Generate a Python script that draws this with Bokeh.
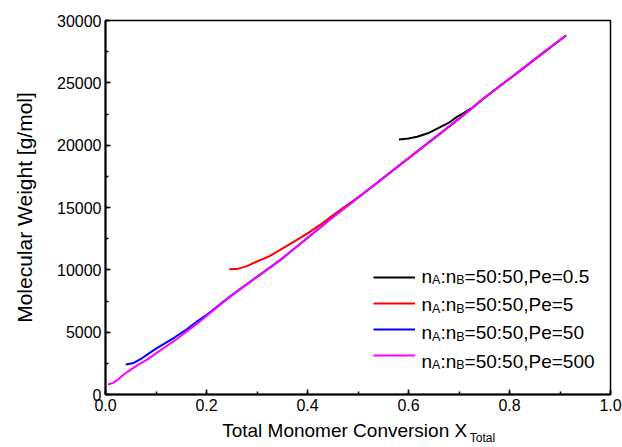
from bokeh.plotting import figure
from bokeh.models import (Range1d, SingleIntervalTicker, FixedTicker, PrintfTickFormatter,
                          NumeralTickFormatter, Legend, LegendItem, Label, LinearAxis)
from bokeh.embed import file_html
from bokeh.resources import INLINE

# ---------------- data ----------------
pe05_x = [0.581, 0.600, 0.617, 0.640, 0.657, 0.680, 0.696, 0.710, 0.723]
pe05_y = [20450, 20530, 20670, 20980, 21330, 21800, 22270, 22600, 22930]

pe5_x = [0.245, 0.260, 0.280, 0.300, 0.325, 0.350, 0.375, 0.400, 0.425, 0.445,
         0.470, 0.500, 0.550, 0.600, 0.650, 0.700, 0.750, 0.800, 0.850, 0.900, 0.912]
pe5_y = [10050, 10060, 10300, 10670, 11100, 11700, 12300, 12930, 13600, 14210,
         14950, 15800, 17370, 18950, 20540, 22120, 23780, 25330, 26880, 28430, 28800]

pe50_x = [0.040, 0.056, 0.070, 0.0825, 0.100, 0.135, 0.160, 0.1815, 0.200, 0.2475,
          0.300, 0.3465, 0.400, 0.4455, 0.500, 0.550, 0.600, 0.650, 0.700, 0.750,
          0.800, 0.850, 0.900, 0.912]
pe50_y = [2400, 2530, 2850, 3200, 3680, 4530, 5200, 5870, 6380, 7900,
          9440, 10800, 12560, 14080, 15780, 17370, 18950, 20540, 22120, 23780,
          25330, 26880, 28430, 28800]

pe500_x = [0.005, 0.015, 0.025, 0.036, 0.050, 0.065, 0.0825, 0.100, 0.135, 0.1815,
           0.200, 0.2475, 0.300, 0.3465, 0.400, 0.4455, 0.500, 0.550, 0.600, 0.650,
           0.700, 0.750, 0.800, 0.850, 0.900, 0.912]
pe500_y = [800, 930, 1200, 1600, 2000, 2400, 2800, 3300, 4270, 5680,
           6290, 7870, 9420, 10800, 12560, 14080, 15780, 17370, 18950, 20540,
           22120, 23780, 25330, 26880, 28430, 28800]

series_names = ["Pe=0.5", "Pe=5", "Pe=50", "Pe=500"]
series_colors = ["black", "#FF0000", "#0000FF", "#FF00FF"]

x_ticks_interval = 0.2
y_ticks_interval = 5000
x_title = "Total Monomer Conversion X"
x_title_sub = "Total"
y_title = "Molecular Weight [g/mol]"

# ---------------- figure ----------------
FONT = "Liberation Sans"
W, H = 622, 447
FL, FR, FT, FB = 105, 610, 20, 395   # frame edges in pixels

p = figure(width=W, height=H, output_backend="svg", toolbar_location=None,
           x_range=Range1d(0, 1), y_range=Range1d(0, 30000),
           min_border_left=FL, min_border_right=W - FR,
           min_border_top=FT, min_border_bottom=H - FB)
p.background_fill_color = "white"
p.border_fill_color = "white"
p.outline_line_color = "black"
p.outline_line_width = 1.5
p.xgrid.visible = False
p.ygrid.visible = False

p.xaxis.ticker = SingleIntervalTicker(interval=x_ticks_interval, num_minor_ticks=2)
p.yaxis.ticker = SingleIntervalTicker(interval=y_ticks_interval, num_minor_ticks=2)
p.xaxis.formatter = PrintfTickFormatter(format="%.1f")
p.yaxis.formatter = NumeralTickFormatter(format="0")

for ax in (p.xaxis[0], p.yaxis[0]):
    ax.axis_line_width = 2
    ax.axis_line_color = "black"
    ax.major_tick_in = 5
    ax.major_tick_out = 0
    ax.minor_tick_in = 3
    ax.minor_tick_out = 0
    ax.major_tick_line_width = 1.5
    ax.minor_tick_line_width = 1.5
    ax.major_label_text_font = FONT
    ax.major_label_text_font_size = "16px"
    ax.major_label_text_color = "black"
    ax.major_label_standoff = 4
    ax.axis_label_text_font = FONT
    ax.axis_label_text_font_size = "21px"
    ax.axis_label_text_font_style = "normal"
    ax.axis_label_text_color = "black"

p.yaxis.axis_label = y_title
p.yaxis.axis_label_standoff = 18

xs = [pe05_x, pe5_x, pe50_x, pe500_x]
ys = [pe05_y, pe5_y, pe50_y, pe500_y]
renderers = []
for x, y, c in zip(xs, ys, series_colors):
    renderers.append(p.line(x, y, line_color=c, line_width=2))

# ---------------- helpers for text layout ----------------
AW = {'n': 556, 'A': 667, ':': 278, 'B': 667, '=': 584, '5': 556, '0': 556,
      ',': 278, 'P': 667, 'e': 556, '.': 278, 'T': 611, 'o': 556, 't': 278,
      'a': 556, 'l': 222, ' ': 278, 'M': 833, 'm': 833, 'r': 333, 'C': 722,
      'v': 500, 's': 500, 'i': 222, 'X': 667}


def tw(s, fs):
    return sum(AW.get(ch, 556) for ch in s) * fs / 1000.0


def dx(px):
    return (px - FL) / (FR - FL)


def dy(py):
    return (FB - py) * 30000.0 / (FB - FT)


def put(text, px, py, fs):
    p.add_layout(Label(x=dx(px), y=dy(py), text=text, text_font=FONT,
                       text_font_size=f"{fs}px", text_color="black",
                       text_baseline="alphabetic", text_align="left"))


# ---------------- x-axis title with subscript (as extra unlined axes) ----------------
XFS, XSFS = 19, 12
main_w = tw(x_title, XFS)
sub_w = tw(x_title_sub, XSFS)
left_px = (FL + FR) / 2 - (main_w + sub_w) / 2
main_c = dx(left_px + main_w / 2)
sub_c = dx(left_px + main_w + 1 + sub_w / 2)


def text_axis(tick, text, fs, standoff):
    ax = LinearAxis(ticker=FixedTicker(ticks=[tick], minor_ticks=[]),
                    major_label_overrides={tick: text},
                    axis_line_color=None, major_tick_line_color=None,
                    minor_tick_line_color=None, major_tick_in=0, major_tick_out=0,
                    minor_tick_in=0, minor_tick_out=0,
                    major_label_standoff=standoff,
                    major_label_text_font=FONT,
                    major_label_text_font_size=f"{fs}px",
                    major_label_text_color="black")
    p.add_layout(ax, "below")
    return ax


text_axis(main_c, x_title, XFS, 6)
text_axis(sub_c, x_title_sub, XSFS, -13)

# ---------------- legend (lines) ----------------
items = [LegendItem(label=" ", renderers=[r]) for r in renderers]
leg = Legend(items=items, location=(373 - FL, FB - 366), padding=0, margin=0,
             spacing=6, glyph_width=42, glyph_height=20, label_height=20,
             label_width=1, label_standoff=0, label_text_font_size="8px",
             border_line_color=None, background_fill_alpha=0)
p.add_layout(leg, "center")

# legend texts with subscripts
LFS, SFS = 19, 12.5
row_centers = [271.7, 300.0, 328.3, 356.7]
for name, yc in zip(series_names, row_centers):
    base = yc + 0.36 * LFS - 2
    sub = base + 4
    x0 = 421
    put("n", x0, base, LFS); x0 += tw("n", LFS)
    put("A", x0, sub, SFS); x0 += tw("A", SFS)
    put(":n", x0, base, LFS); x0 += tw(":n", LFS)
    put("B", x0, sub, SFS); x0 += tw("B", SFS)
    put("=50:50," + name, x0, base, LFS)

open("out.html", "w").write(file_html(p, INLINE))
